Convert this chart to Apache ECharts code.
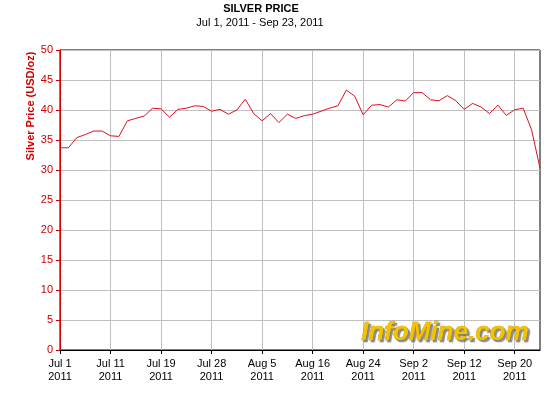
<!DOCTYPE html>
<html>
<head>
<meta charset="utf-8">
<script src="https://cdn.jsdelivr.net/npm/echarts@6/dist/echarts.min.js"></script>
<style>html,body{margin:0;padding:0;background:#fff;}#c{width:560px;height:400px;}</style>
</head>
<body>
<div id="c"></div>
<script>
var dates = [
  'Jul 1','Jul 4','Jul 5','Jul 6','Jul 7','Jul 8','Jul 11','Jul 12','Jul 13','Jul 14','Jul 15','Jul 18','Jul 19',
  'Jul 20','Jul 21','Jul 22','Jul 25','Jul 26','Jul 28','Jul 29','Aug 1','Aug 2','Aug 3','Aug 4','Aug 5',
  'Aug 8','Aug 9','Aug 11','Aug 12','Aug 15','Aug 16','Aug 17','Aug 18','Aug 19','Aug 22','Aug 23','Aug 24',
  'Aug 25','Aug 26','Aug 30','Aug 31','Sep 1','Sep 2','Sep 5','Sep 6','Sep 7','Sep 8','Sep 9','Sep 12',
  'Sep 13','Sep 14','Sep 15','Sep 16','Sep 19','Sep 20','Sep 21','Sep 22','Sep 23'
];
var prices = [
  33.7,33.7,35.4,35.9,36.5,36.5,35.7,35.6,38.2,38.6,39.0,40.3,40.2,
  38.8,40.1,40.3,40.7,40.6,39.8,40.1,39.3,40.0,41.8,39.4,38.2,
  39.4,37.9,39.3,38.6,39.05,39.3,39.8,40.3,40.7,43.3,42.3,39.2,
  40.8,40.9,40.5,41.7,41.5,42.9,42.9,41.7,41.55,42.4,41.55,40.1,
  41.1,40.5,39.4,40.8,39.1,40.05,40.3,36.7,30.3
];
var year = '2011';
var titleText = 'SILVER PRICE';
var subtitleText = 'Jul 1, 2011 - Sep 23, 2011';
var yAxisName = 'Silver Price (USD/oz)';
var watermark = 'InfoMine.com';

var chart = echarts.init(document.getElementById('c'), null, {renderer: 'canvas'});
var FONT = '"Liberation Sans", Arial, sans-serif';
chart.setOption({
  backgroundColor: '#fff',
  animation: false,
  grid: {left: 60, right: 20, top: 50, bottom: 50, show: true, borderColor: '#000', borderWidth: 1, backgroundColor: 'transparent'},
  xAxis: {
    type: 'category',
    data: dates,
    boundaryGap: false,
    axisLine: {lineStyle: {color: '#000', width: 1}},
    axisTick: {interval: 5, length: 4, lineStyle: {color: '#000'}},
    axisLabel: {
      interval: 5, color: '#000', fontFamily: FONT, fontSize: 11, lineHeight: 13, margin: 7,
      formatter: function (v) { return v + '\n' + year; }
    },
    splitLine: {show: true, interval: 5, lineStyle: {color: '#c0c0c0', width: 1}}
  },
  yAxis: {
    type: 'value',
    min: 0, max: 50, interval: 5,
    axisLine: {show: true, lineStyle: {color: '#cc0000', width: 1}},
    axisTick: {show: true, length: 4, lineStyle: {color: '#cc0000'}},
    axisLabel: {color: '#cc0000', fontFamily: FONT, fontSize: 11, margin: 7},
    splitLine: {show: true, lineStyle: {color: '#c0c0c0', width: 1}}
  },
  series: [{
    type: 'line',
    data: prices,
    symbol: 'none',
    lineStyle: {color: '#dd1020', width: 1},
    z: 5
  }],
  graphic: [
    {type: 'text', x: 261, y: 3, style: {text: titleText, fill: '#000', font: 'bold 11px ' + FONT, textAlign: 'center'}},
    {type: 'text', x: 260, y: 17, style: {text: subtitleText, fill: '#000', font: '11px ' + FONT, textAlign: 'center'}},
    {type: 'text', x: 31, y: 106, rotation: Math.PI / 2,
     style: {text: yAxisName, fill: '#cc0000', font: 'bold 11px ' + FONT, textAlign: 'center', textVerticalAlign: 'middle'}},
    {type: 'text', left: 361, top: 320, z: 1,
     style: {text: watermark, fill: '#f5c200', font: 'italic bold 26px ' + FONT,
             stroke: '#b08a00', lineWidth: 0.5,
             textShadowColor: 'rgba(90,90,90,0.7)', textShadowOffsetX: 2, textShadowOffsetY: 2, textShadowBlur: 1}}
  ]
});
</script>
</body>
</html>
